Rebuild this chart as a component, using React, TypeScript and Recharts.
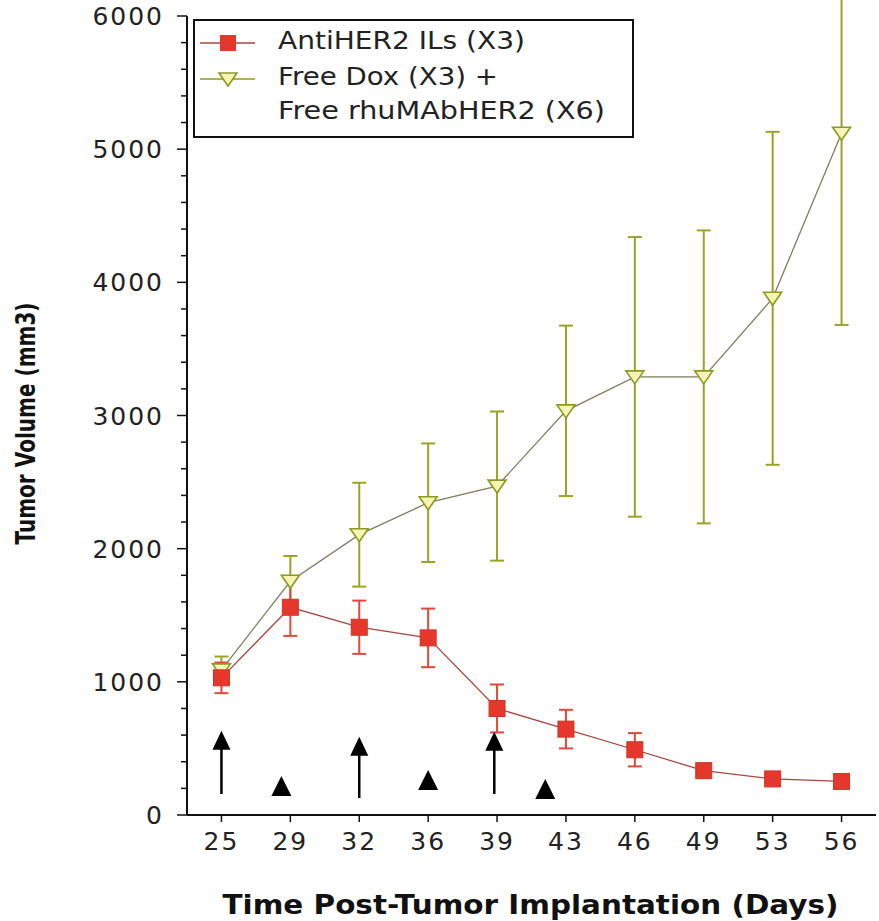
import React from 'react';
import { ComposedChart, Line, XAxis, YAxis, ErrorBar, ReferenceLine, ReferenceDot, Legend } from 'recharts';

const days = ['25', '29', '32', '36', '39', '43', '46', '49', '53', '56'];
const antiHer2 = [1030, 1560, 1410, 1330, 800, 645, 490, 333, 271, 252];
const antiHer2Err = [115, 215, 200, 220, 180, 145, 125, 45, 25, 25];
const freeDox = [1090, 1755, 2105, 2345, 2470, 3035, 3290, 3290, 3880, 5120];
const freeDoxErr = [100, 190, 390, 445, 560, 640, 1050, 1100, 1250, 1440];

const yMajorTicks = [0, 1000, 2000, 3000, 4000, 5000, 6000];
const yMinorTicks = [200, 400, 600, 800, 1200, 1400, 1600, 1800, 2200, 2400, 2600, 2800, 3200, 3400, 3600, 3800, 4200, 4400, 4600, 4800, 5200, 5400, 5600, 5800];

// treatment arrows (position in category index units, values in mm3)
const longArrowPos = [0, 2, 3.96];
const longArrowTip = [632, 588, 626];
const longArrowBase = [158, 128, 158];
const smallArrowPos = [0.87, 3.0, 4.7];
const smallArrowTip = [293, 338, 270];

const seriesNames = ['AntiHER2 ILs (X3)', 'Free Dox (X3) + Free rhuMAbHER2 (X6)'];

const RED = '#e5372b';
const RED_ERR = '#dd4a3c';
const RED_LINE = '#a4483f';
const GREEN_ERR = '#98a427';
const GREEN_STROKE = '#8c9a20';
const GREEN_FILL = '#f6f4b4';
const GREEN_LINE = '#7f7e5e';

const data = days.map((d, i) => ({
  day: d,
  anti: antiHer2[i],
  antiErr: antiHer2Err[i],
  dox: freeDox[i],
  doxErr: freeDoxErr[i],
}));

const allYTicks = [...yMajorTicks, ...yMinorTicks].sort((a, b) => a - b);

const YTick = (props: any) => {
  const { x, y, payload } = props;
  const major = yMajorTicks.includes(payload.value);
  return (
    <g>
      <line x1={x - (major ? 10 : 6)} x2={x} y1={y} y2={y} stroke="#111" strokeWidth={1.5} />
      {major && (
        <text x={x - 23} y={y} dy="0.36em" textAnchor="end" fontSize={25} fontFamily="DejaVu Sans" letterSpacing={2} fill="#222">
          {payload.value}
        </text>
      )}
    </g>
  );
};

const XTitle = (props: any) => {
  const { viewBox } = props;
  if (!viewBox) return null;
  return (
    <text x={viewBox.x + viewBox.width / 2 - 1} y={viewBox.y + 99} textAnchor="middle" fontSize={27} fontWeight="bold" fontFamily="DejaVu Sans" fill="#111" textLength={616} lengthAdjust="spacingAndGlyphs">
      Time Post-Tumor Implantation (Days)
    </text>
  );
};

const YTitle = (props: any) => {
  const { viewBox } = props;
  if (!viewBox) return null;
  const cx = 26;
  const cy = viewBox.y + viewBox.height / 2 + 8;
  return (
    <text transform={`translate(${cx},${cy}) rotate(-90)`} textAnchor="middle" dy="0.36em" fontSize={26} fontWeight="bold" fontFamily="DejaVu Sans" fill="#111" textLength={242} lengthAdjust="spacingAndGlyphs">
      Tumor Volume (mm3)
    </text>
  );
};

const RedDot = (p: any) => {
  if (p.cx == null || p.cy == null) return <g key={`r${p.index}`} />;
  return <rect key={`r${p.index}`} x={p.cx - 8} y={p.cy - 8} width={16} height={16} fill={RED} stroke="#cf3427" strokeWidth={1} />;
};

const GreenDot = (p: any) => {
  if (p.cx == null || p.cy == null) return <g key={`g${p.index}`} />;
  const { cx, cy } = p;
  return (
    <path key={`g${p.index}`} d={`M${cx - 9},${cy - 6} L${cx + 9},${cy - 6} L${cx},${cy + 7} Z`} fill={GREEN_FILL} stroke={GREEN_STROKE} strokeWidth={1.6} />
  );
};

const LongHead = (p: any) => (
  <path d={`M${p.cx},${p.cy} L${p.cx + 9},${p.cy + 19} L${p.cx - 9},${p.cy + 19} Z`} fill="#000" />
);

const SmallHead = (p: any) => (
  <path d={`M${p.cx},${p.cy} L${p.cx + 10},${p.cy + 20} L${p.cx - 10},${p.cy + 20} Z`} fill="#000" />
);

const LegendBox = () => {
  const secondLines = seriesNames[1].split('+ ');
  return (
    <svg width={442} height={120} style={{ display: 'block' }}>
      <rect x={1} y={1} width={439} height={117} fill="#fff" stroke="#111" strokeWidth={2} />
      <line x1={7} x2={62} y1={24} y2={24} stroke={RED_LINE} strokeWidth={1.5} />
      <rect x={27} y={16} width={16} height={16} fill={RED} />
      <text x={85} y={30} fontSize={24} fontFamily="DejaVu Sans" fill="#222" textLength={247} lengthAdjust="spacingAndGlyphs">
        {seriesNames[0]}
      </text>
      <line x1={7} x2={62} y1={60} y2={60} stroke={GREEN_STROKE} strokeWidth={1.5} />
      <path d={`M${26},${54} L${44},${54} L${35},${67} Z`} fill={GREEN_FILL} stroke={GREEN_STROKE} strokeWidth={1.6} />
      <text x={85} y={66} fontSize={24} fontFamily="DejaVu Sans" fill="#222" textLength={220} lengthAdjust="spacingAndGlyphs">
        {secondLines[0] + '+'}
      </text>
      <text x={85} y={100} fontSize={24} fontFamily="DejaVu Sans" fill="#222" textLength={327} lengthAdjust="spacingAndGlyphs">
        {secondLines[1]}
      </text>
    </svg>
  );
};

export default function App() {
  return (
    <div style={{ position: 'absolute', left: 0, top: 0, width: 879, height: 921, background: '#fff' }}>
      <ComposedChart width={879} height={921} data={data} margin={{ top: 16, right: 3, bottom: 6, left: 0 }}>
        <XAxis
          xAxisId="cat"
          dataKey="day"
          padding={{ left: 34.45, right: 34.45 }}
          height={100}
          interval={0}
          tickSize={7}
          tickMargin={10}
          axisLine={{ stroke: '#111', strokeWidth: 2 }}
          tickLine={{ stroke: '#111', strokeWidth: 1.5 }}
          tick={{ fill: '#222', fontSize: 25, fontFamily: 'DejaVu Sans', letterSpacing: 2 }}
          label={<XTitle />}
        />
        <XAxis
          xAxisId="pos"
          type="number"
          domain={[0, 9]}
          padding={{ left: 34.45, right: 34.45 }}
          hide
          allowDataOverflow
        />
        <YAxis
          width={187}
          domain={[0, 6000]}
          ticks={allYTicks}
          interval={0}
          tickSize={0}
          tickMargin={0}
          tickLine={false}
          tick={<YTick />}
          axisLine={{ stroke: '#111', strokeWidth: 2 }}
          allowDataOverflow
          label={<YTitle />}
        />
        <Legend
          layout="horizontal"
          verticalAlign="middle"
          align="center"
          wrapperStyle={{ left: 193, top: 19, width: 442, height: 120 }}
          content={<LegendBox />}
        />
        {longArrowPos.map((p, i) => (
          <ReferenceLine
            key={`la${i}`}
            xAxisId="pos"
            segment={[{ x: p, y: longArrowBase[i] }, { x: p, y: longArrowTip[i] - 100 }]}
            stroke="#000"
            strokeWidth={2.5}
          />
        ))}
        {longArrowPos.map((p, i) => (
          <ReferenceDot key={`lh${i}`} xAxisId="pos" x={p} y={longArrowTip[i]} shape={<LongHead />} />
        ))}
        {smallArrowPos.map((p, i) => (
          <ReferenceDot key={`sh${i}`} xAxisId="pos" x={p} y={smallArrowTip[i]} shape={<SmallHead />} />
        ))}
        <Line
          xAxisId="cat"
          name={seriesNames[1]}
          dataKey="dox"
          stroke={GREEN_LINE}
          strokeWidth={1.3}
          dot={GreenDot}
          activeDot={false}
          isAnimationActive={false}
        >
          <ErrorBar dataKey="doxErr" width={7} stroke={GREEN_ERR} strokeWidth={2} direction="y" />
        </Line>
        <Line
          xAxisId="cat"
          name={seriesNames[0]}
          dataKey="anti"
          stroke={RED_LINE}
          strokeWidth={1.3}
          dot={RedDot}
          activeDot={false}
          isAnimationActive={false}
        >
          <ErrorBar dataKey="antiErr" width={7} stroke={RED_ERR} strokeWidth={2} direction="y" />
        </Line>
      </ComposedChart>
    </div>
  );
}
